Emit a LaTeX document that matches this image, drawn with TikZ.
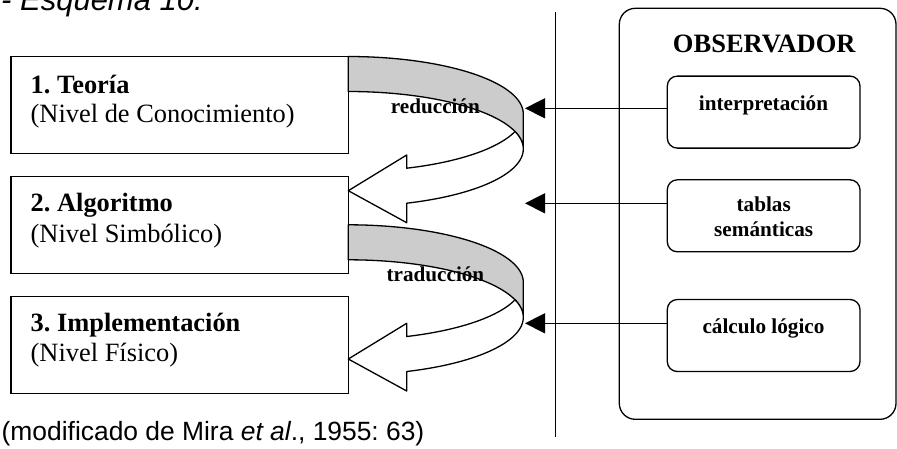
\documentclass[tikz,border=0pt]{standalone}
\usepackage{fontspec}
\setmainfont{Liberation Serif}
\newfontfamily\capfont{Liberation Sans}
\usetikzlibrary{arrows.meta}
\definecolor{bandgray}{RGB}{204,204,204}
\frenchspacing

% A curved "turn back" band: grey back face above, white front face
% ending in a hollow arrow head that points at the level below.
\newcommand\curvedband[1]{%
  \begin{scope}[shift={(0,#1)}]
    \draw[band, fill=bandgray]
      plot[domain=90:0, samples=60] ({348.3+175*cos(\x)},{114-57.5*sin(\x)})
      -- plot[domain=0:90, samples=60] ({348.3+175*cos(\x)},{149-57.5*sin(\x)})
      -- cycle;
    \draw[band, fill=white]
      plot[domain=0:-70.5, samples=50] ({348.3+175*cos(\x)},{149-57.5*sin(\x)})
      -- (406.7,222.7) -- (348.3,190.7) -- (406.7,155)
      -- plot[domain=-70.5:-17.7, samples=50] ({348.3+175*cos(\x)},{114-57.5*sin(\x)})
      -- plot[domain=17.7:0, samples=20] ({348.3+175*cos(\x)},{149-57.5*sin(\x)})
      -- cycle;
  \end{scope}}

\begin{document}
\begin{tikzpicture}[x=1pt,y=-1pt,
  levelbox/.style={draw, line width=1.3pt, inner sep=0pt,
    minimum width=337.3pt, minimum height=96.6pt},
  obsframe/.style={draw, line width=1.3pt, rounded corners=16pt, inner sep=0pt,
    minimum width=276.7pt, minimum height=411pt},
  toolbox/.style={draw, line width=1.3pt, rounded corners=10pt, inner sep=0pt,
    minimum width=192.7pt, minimum height=72pt},
  headtext/.style={anchor=base west, inner sep=0pt,
    font=\fontsize{26.4}{30}\selectfont\bfseries},
  subtext/.style={anchor=base west, inner sep=0pt,
    font=\fontsize{26.4}{30}\selectfont},
  smalllabel/.style={anchor=base, inner sep=0pt,
    font=\fontsize{21.2}{25}\selectfont\bfseries},
  band/.style={line width=1.3pt, line join=round},
  obsarrow/.style={line width=1.3pt, -{Triangle[length=20pt,width=20pt]}},
]
\useasboundingbox (0,0) rectangle (897,448);
\clip (0,0) rectangle (897,448);

% heading and source line
\node[anchor=base west, inner sep=0pt,
  font=\capfont\itshape\fontsize{31}{36}\selectfont] (title) at (1,10) {- Esquema 10:};
\node[anchor=base west, inner sep=0pt,
  font=\capfont\fontsize{26.4}{30}\selectfont] (source) at (1.5,440)
  {(modificado de Mira \textit{et al}., 1955: 63)};

% curved transitions between levels
\curvedband{0}
\curvedband{168.3}
\node[smalllabel] (red) at (435.4,113.3) {reducción};
\node[smalllabel] (trad) at (435.4,281.6) {traducción};

% the three levels
\node[levelbox] (box1) at (179.65,105) {};
\node[levelbox] (box2) at (179.65,225) {};
\node[levelbox] (box3) at (179.65,345) {};
\node[headtext] (h1) at (30.5,93.3) {1. Teoría};
\node[subtext]  (s1) at (30.5,122.7) {(Nivel de Conocimiento)};
\node[headtext] (h2) at (30.5,211.7) {2. Algoritmo};
\node[subtext]  (s2) at (30.5,242.7) {(Nivel Simbólico)};
\node[headtext] (h3) at (30.5,331.7) {3. Implementación};
\node[subtext]  (s3) at (30.5,361.7) {(Nivel Físico)};

% separator
\coordinate (vtop) at (555.7,11.7);
\coordinate (vbot) at (555.7,436.7);
\draw[line width=1.3pt] (vtop) -- (vbot);

% observer
\node[obsframe] (obs) at (757.65,213.8) {};
\node[anchor=base, inner sep=0pt, font=\fontsize{26.5}{30}\selectfont\bfseries]
  (obstitle) at (764.3,52) {OBSERVADOR};
\node[toolbox] (interp) at (763.65,112.1) {};
\node[toolbox] (tablas) at (763.65,215.8) {};
\node[toolbox] (calc)   at (763.65,335.5) {};
\node[smalllabel] (interpT) at (763.5,110) {interpretación};
\node[smalllabel] (tablasA) at (763.7,211.7) {tablas};
\node[smalllabel] (tablasB) at (763.7,236.7) {semánticas};
\node[smalllabel] (calcT)   at (763.5,333.3) {cálculo lógico};

% observer actions pointing at the levels
\coordinate (t1) at (525,108.3);
\coordinate (t2) at (525,203.3);
\coordinate (t3) at (525,323.3);
\draw[obsarrow] (interp.west |- t1) -- (t1);
\draw[obsarrow] (tablas.west |- t2) -- (t2);
\draw[obsarrow] (calc.west |- t3) -- (t3);
\end{tikzpicture}
\end{document}
